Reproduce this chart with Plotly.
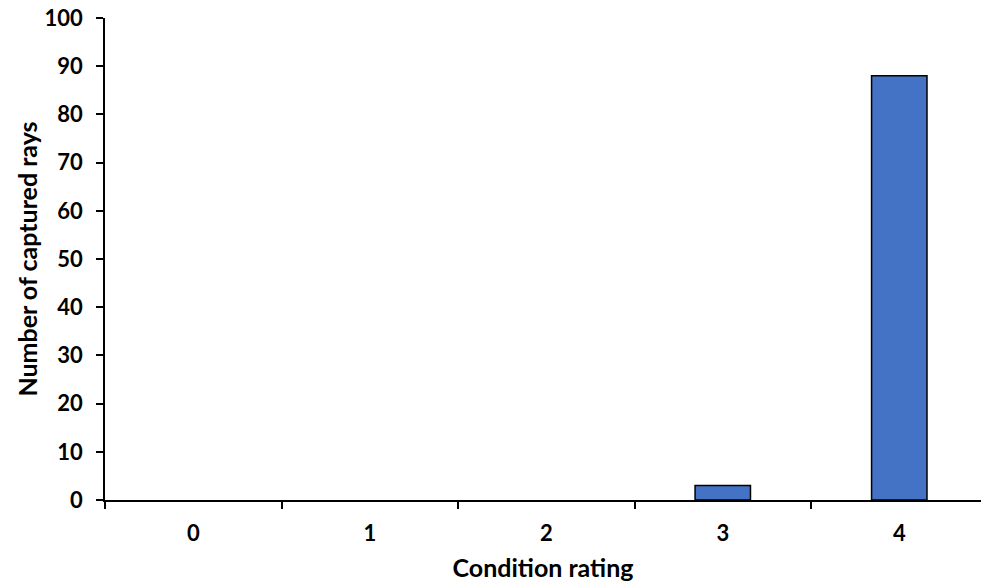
import plotly.graph_objects as go

categories = ["0", "1", "2", "3", "4"]
counts = [0, 0, 0, 3, 88]
y_ticks = [0, 10, 20, 30, 40, 50, 60, 70, 80, 90, 100]

FONT = "Lato"
TICK_SIZE = 22
TITLE_SIZE = 25

# outline only on bars that have height (zero bars would draw a stub on the axis)
outline_widths = [1.5 if v > 0 else 0 for v in counts]

fig = go.Figure(
    go.Bar(
        x=categories,
        y=counts,
        marker=dict(color="#4472C4", line=dict(color="#000000", width=outline_widths)),
        width=0.314,
    )
)

fig.update_layout(
    width=981,
    height=585,
    margin=dict(l=105, r=0, t=18, b=85, autoexpand=False),
    plot_bgcolor="white",
    paper_bgcolor="white",
    font=dict(family=FONT, size=TICK_SIZE, color="#000000", weight="bold"),
    showlegend=False,
)

fig.update_xaxes(
    type="category",
    range=[-0.5, 4.463],
    showline=True,
    linecolor="#000000",
    linewidth=1.5,
    ticks="outside",
    tickson="boundaries",
    ticklen=7,
    tickwidth=1.5,
    tickcolor="#000000",
    showgrid=False,
    zeroline=False,
    ticklabelstandoff=13,
    tickfont=dict(family=FONT, size=TICK_SIZE, weight="bold"),
    title=dict(text="Condition rating", standoff=14,
               font=dict(family=FONT, size=TITLE_SIZE, weight="bold")),
    automargin=False,
)

fig.update_yaxes(
    range=[0, 100],
    tickvals=y_ticks,
    showline=True,
    linecolor="#000000",
    linewidth=1.5,
    ticks="outside",
    ticklen=7,
    tickwidth=1.5,
    tickcolor="#000000",
    showgrid=False,
    zeroline=False,
    ticklabelstandoff=9,
    ticklabeloverflow="allow",
    tickfont=dict(family=FONT, size=TICK_SIZE, weight="bold"),
    title=dict(text="Number of captured rays", standoff=0,
               font=dict(family=FONT, size=TITLE_SIZE, weight="bold")),
    automargin=False,
)

# remove the default 8px page margin so the figure fills the window exactly
fig.write_html(
    "out.html",
    config={"displayModeBar": False},
    post_script="document.body.style.margin='0';",
)
